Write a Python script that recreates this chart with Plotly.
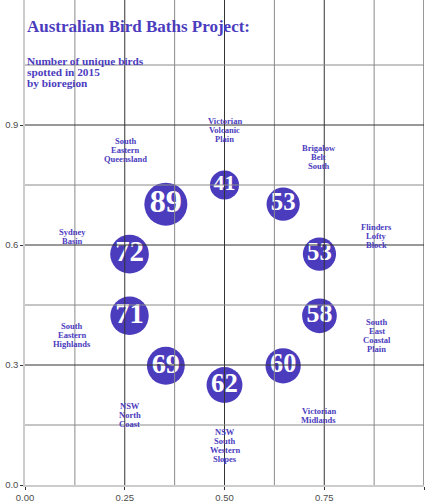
import plotly.graph_objects as go

# ---- data ----
regions = ["Victorian Volcanic Plain", "South Eastern Queensland", "Sydney Basin",
           "South Eastern Highlands", "NSW North Coast", "NSW South Western Slopes",
           "Victorian Midlands", "South East Coastal Plain", "Flinders Lofty Block",
           "Brigalow Belt South"]
label_text = ["Victorian<br>Volcanic<br>Plain", "South<br>Eastern<br>Queensland",
              "Sydney<br>Basin", "South<br>Eastern<br>Highlands", "NSW<br>North<br>Coast",
              "NSW<br>South<br>Western<br>Slopes", "Victorian<br>Midlands",
              "South<br>East<br>Coastal<br>Plain", "Flinders<br>Lofty<br>Block",
              "Brigalow<br>Belt<br>South"]
unique_birds = [41, 89, 72, 71, 69, 62, 60, 58, 53, 53]
point_x = [0.500, 0.353, 0.262, 0.262, 0.353, 0.500, 0.647, 0.738, 0.738, 0.647]
point_y = [0.750, 0.702, 0.577, 0.423, 0.298, 0.250, 0.298, 0.423, 0.577, 0.702]
label_x = [0.500, 0.252, 0.118, 0.119, 0.263, 0.500, 0.736, 0.881, 0.881, 0.736]
label_y = [0.887, 0.837, 0.621, 0.374, 0.174, 0.098, 0.174, 0.374, 0.622, 0.821]

x_ticks = [0.0, 0.25, 0.5, 0.75, 1.0]
x_tick_labels = ["0.00", "0.25", "0.50", "0.75", "1.00"]
y_ticks = [0.0, 0.3, 0.6, 0.9]
y_tick_labels = ["0.0", "0.3", "0.6", "0.9"]
x_major_grid = [0.25, 0.5, 0.75, 1.0]
x_minor_grid = [0.125, 0.375, 0.625, 0.875]
y_major_grid = [0.3, 0.6, 0.9]
y_minor_grid = [0.15, 0.45, 0.75, 1.05]

PURPLE = "#4B3CBE"
SERIF = "Liberation Serif"

fig = go.Figure()

max_d = 43
fig.add_trace(go.Scatter(
    x=point_x, y=point_y, mode="markers+text",
    text=[str(v) for v in unique_birds],
    textposition="middle center",
    textfont=dict(family=SERIF, color="white", weight="bold",
                  size=[3.4 * v ** 0.5 for v in unique_birds]),
    marker=dict(size=unique_birds, sizemode="area",
                sizeref=2 * max(unique_birds) / max_d ** 2,
                color=PURPLE, line=dict(width=0), opacity=1),
    hovertext=regions, hoverinfo="text", showlegend=False, cliponaxis=False,
))

shapes = []
for gx in x_major_grid:
    shapes.append(dict(type="line", xref="x", yref="paper", x0=gx, x1=gx, y0=0, y1=1,
                       line=dict(color="#333333", width=1), layer="above"))
for gx in x_minor_grid:
    shapes.append(dict(type="line", xref="x", yref="paper", x0=gx, x1=gx, y0=0, y1=1,
                       line=dict(color="#8a8a8a", width=1), layer="above"))
for gy in y_major_grid:
    shapes.append(dict(type="line", xref="paper", yref="y", x0=0, x1=1, y0=gy, y1=gy,
                       line=dict(color="#333333", width=1), layer="above"))
for gy in y_minor_grid:
    shapes.append(dict(type="line", xref="paper", yref="y", x0=0, x1=1, y0=gy, y1=gy,
                       line=dict(color="#8a8a8a", width=1), layer="above"))

annotations = []
LINE_PX = 9
for lx, ly, txt in zip(label_x, label_y, label_text):
    lines = txt.split("<br>")
    n = len(lines)
    for i, ln in enumerate(lines):
        annotations.append(dict(
            x=lx, y=ly, xref="x", yref="y", text=ln, showarrow=False,
            xanchor="center", yanchor="middle",
            yshift=((n - 1) / 2 - i) * LINE_PX,
            font=dict(family=SERIF, size=8.5, color=PURPLE, weight="bold")))

# title and subtitle
annotations.append(dict(x=0, y=(485 - 26) / 485, xref="paper", yref="paper",
                        text="Australian Bird Baths Project:", showarrow=False,
                        xanchor="left", yanchor="middle",
                        font=dict(family=SERIF, size=17, color=PURPLE, weight="bold")))
subtitle = ["Number of unique birds", "spotted in 2015", "by bioregion"]
for i, s in enumerate(subtitle):
    annotations.append(dict(x=0, y=(485 - 61 - i * 11) / 485, xref="paper", yref="paper",
                            text=s, showarrow=False, xanchor="left", yanchor="middle",
                            font=dict(family=SERIF, size=11.3, color=PURPLE, weight="bold")))

axis_common = dict(showgrid=False, zeroline=False, showline=True, linecolor="#cccccc",
                   linewidth=1.5, ticks="outside", ticklen=3, tickwidth=1,
                   tickcolor="#333333", automargin=False,
                   tickfont=dict(family="Liberation Sans", size=9.5, color="#4d4d4d"))

fig.update_layout(
    width=432, height=504,
    margin=dict(l=25, r=8, t=0, b=19, pad=0, autoexpand=False),
    plot_bgcolor="white", paper_bgcolor="white",
    xaxis=dict(range=[0, 1], tickvals=x_ticks, ticktext=x_tick_labels, **axis_common),
    yaxis=dict(range=[0, 485 / 400], tickvals=y_ticks, ticktext=y_tick_labels, **axis_common),
    shapes=shapes, annotations=annotations,
)

fig.write_html("out.html", config={"displayModeBar": False},
               post_script="document.body.style.margin='0';document.body.style.overflow='hidden';")
